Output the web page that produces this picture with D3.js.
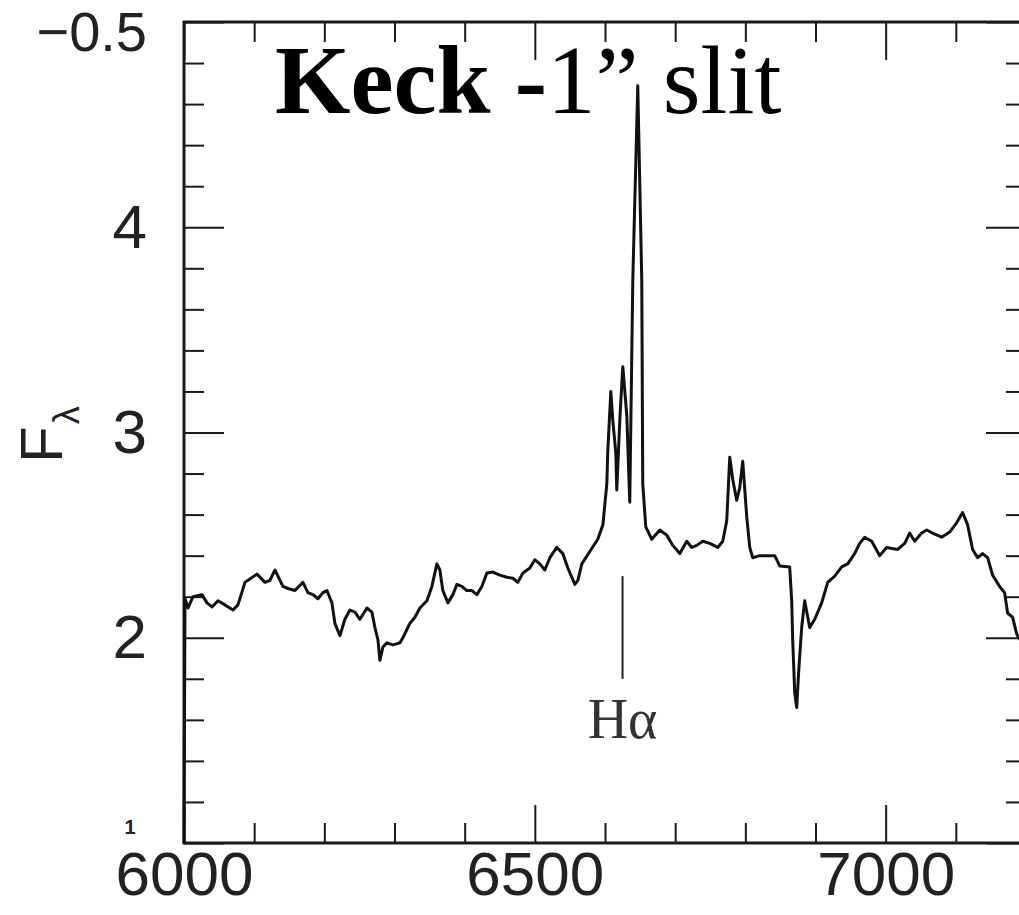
<!DOCTYPE html>
<html>
<head>
<meta charset="utf-8">
<script src="https://cdn.jsdelivr.net/npm/d3@7"></script>
<style>
  html, body { margin: 0; padding: 0; background: #fff; }
  svg { display: block; }
</style>
</head>
<body>
<script>
// ---- data ----
const wavelength = [6000,6001.4,6005.7,6012.8,6025.6,6032.8,6039.9,6048.4,6058.4,6069.8,6076.9,6086.9,6091.2,6104.0,6115.4,6122.5,6129.6,6133.9,6141.0,6148.1,6158.1,6169.5,6176.6,6183.8,6190.9,6198.0,6203.7,6210.8,6215.1,6222.2,6229.3,6236.5,6243.6,6250.7,6260.7,6267.8,6272.1,6276.4,6279.2,6283.5,6289.2,6297.7,6307.7,6312.0,6321.9,6329.1,6336.2,6346.2,6353.3,6360.4,6364.7,6368.9,6376.1,6383.2,6388.9,6396.0,6403.1,6410.3,6417.4,6424.5,6431.6,6440.2,6450.1,6460.1,6468.7,6475.8,6482.9,6492.9,6500.0,6507.1,6514.2,6521.4,6531.3,6539.9,6547.0,6557.0,6561.3,6567.0,6578.3,6589.7,6597.0,6602.6,6604.0,6608.3,6611.1,6615.4,6616.8,6621.1,6624.0,6625.4,6631.1,6635.3,6639.6,6646.7,6652.4,6653.8,6658.1,6666.7,6678.1,6688.0,6696.6,6706.6,6716.5,6723.6,6730.8,6739.3,6749.3,6760.7,6767.8,6773.5,6777.8,6782.1,6787.7,6792.0,6796.3,6802.0,6806.3,6810.5,6820.5,6830.5,6841.9,6849.0,6863.2,6866.1,6867.5,6870.4,6873.2,6876.1,6880.3,6884.6,6891.7,6898.9,6908.8,6917.4,6927.4,6937.3,6945.9,6955.8,6963.0,6970.1,6980.1,6991.5,7001.4,7017.1,7027.1,7034.2,7041.3,7051.3,7058.4,7066.9,7079.8,7091.2,7101.1,7109.7,7116.8,7123.9,7131.1,7138.2,7145.3,7152.4,7162.4,7169.5,7173.8,7180.9,7186.6,7189.5,7200];
const flux = [1.00,2.19,2.145,2.20,2.21,2.17,2.15,2.18,2.16,2.135,2.16,2.27,2.28,2.31,2.27,2.28,2.33,2.30,2.25,2.24,2.23,2.27,2.22,2.21,2.19,2.22,2.23,2.17,2.07,2.01,2.09,2.135,2.125,2.09,2.145,2.125,2.05,1.99,1.89,1.955,1.975,1.965,1.975,2.00,2.07,2.10,2.145,2.18,2.25,2.36,2.33,2.23,2.17,2.21,2.26,2.25,2.23,2.23,2.21,2.25,2.315,2.32,2.305,2.295,2.29,2.27,2.315,2.34,2.38,2.36,2.33,2.39,2.44,2.41,2.34,2.26,2.28,2.36,2.42,2.48,2.55,2.75,2.91,3.20,3.06,2.90,2.72,3.06,3.24,3.32,3.08,2.66,3.74,4.69,3.74,2.75,2.54,2.48,2.525,2.50,2.45,2.41,2.47,2.44,2.45,2.47,2.46,2.44,2.47,2.57,2.88,2.77,2.67,2.73,2.86,2.59,2.44,2.39,2.40,2.40,2.40,2.35,2.345,2.18,1.99,1.73,1.66,1.84,2.05,2.18,2.05,2.09,2.17,2.27,2.30,2.345,2.36,2.41,2.46,2.49,2.47,2.40,2.44,2.43,2.46,2.51,2.47,2.51,2.525,2.51,2.49,2.515,2.56,2.61,2.55,2.43,2.39,2.41,2.39,2.305,2.25,2.22,2.12,2.10,2.02,2.00,1.95];

const xMajorTicks = [6000, 6500, 7000];
const xMinorTicks = [6100,6200,6300,6400,6600,6700,6800,6900,7100];
const xTickLabels = ["6000", "6500", "7000"];
const yMajorTicks = [1, 2, 3, 4, 5];
const yMinorTicks = [1.2,1.4,1.6,1.8,2.2,2.4,2.6,2.8,3.2,3.4,3.6,3.8,4.2,4.4,4.6,4.8];
const yTickLabels = ["2", "3", "4"];
const yTickLabelValues = [2, 3, 4];
const topLeftLabel = "\u22120.5";
const bottomLeftLabel = "1";
const yAxisTitle = "F";
const yAxisTitleSub = "\u03bb";
const titleBold = "Keck -";
const titleRegular = "1\u201d slit";
const lineMarkLabel = "H\u03b1";
const lineMarkLambda = 6625;
const lineMarkFlux = [1.80, 2.30];

// ---- layout ----
const W = 1019, H = 915;
const x = d3.scaleLinear().domain([6000, 7200]).range([184, 1026]);
const y = d3.scaleLinear().domain([1, 5]).range([843, 22]);
const ink = "#1a1a1a";

const svg = d3.select("body").append("svg").attr("width", W).attr("height", H);
svg.append("rect").attr("width", W).attr("height", H).attr("fill", "#fff");

function styleAxis(g, sw) {
  g.select(".domain").remove();
  g.selectAll(".tick line").attr("stroke", ink).attr("stroke-width", sw);
  g.selectAll(".tick text").attr("fill", "#222")
    .attr("font-family", "'Liberation Sans', Arial, sans-serif").attr("font-size", 62);
}

// minor ticks
svg.append("g").attr("transform", `translate(0,${y(1)})`)
  .call(d3.axisBottom(x).tickValues(xMinorTicks).tickSize(-20).tickFormat(""))
  .call(g => styleAxis(g, 2));
svg.append("g").attr("transform", `translate(0,${y(5)})`)
  .call(d3.axisTop(x).tickValues(xMinorTicks).tickSize(-20).tickFormat(""))
  .call(g => styleAxis(g, 2));
svg.append("g").attr("transform", `translate(${x(6000)},0)`)
  .call(d3.axisLeft(y).tickValues(yMinorTicks).tickSize(-20).tickFormat(""))
  .call(g => styleAxis(g, 2));
svg.append("g").attr("transform", `translate(${x(7200)},0)`)
  .call(d3.axisRight(y).tickValues(yMinorTicks).tickSize(-20).tickFormat(""))
  .call(g => styleAxis(g, 2));

// major ticks with labels
svg.append("g").attr("transform", `translate(0,${y(1)})`)
  .call(d3.axisBottom(x).tickValues(xMajorTicks).tickSize(-38).tickPadding(8)
    .tickFormat((d, i) => xTickLabels[i]))
  .call(g => styleAxis(g, 2));
svg.append("g").attr("transform", `translate(0,${y(5)})`)
  .call(d3.axisTop(x).tickValues(xMajorTicks).tickSize(-38).tickFormat(""))
  .call(g => styleAxis(g, 2));
svg.append("g").attr("transform", `translate(${x(6000)},0)`)
  .call(d3.axisLeft(y).tickValues(yMajorTicks).tickSize(-40).tickPadding(37)
    .tickFormat(d => { const k = yTickLabelValues.indexOf(d); return k >= 0 ? yTickLabels[k] : ""; }))
  .call(g => styleAxis(g, 2));
svg.append("g").attr("transform", `translate(${x(7200)},0)`)
  .call(d3.axisRight(y).tickValues(yMajorTicks).tickSize(-40).tickFormat(""))
  .call(g => styleAxis(g, 2));

// frame
svg.append("rect")
  .attr("x", x(6000)).attr("y", y(5))
  .attr("width", x(7200) - x(6000)).attr("height", y(1) - y(5))
  .attr("fill", "none").attr("stroke", ink).attr("stroke-width", 3);

// odd corner labels
svg.append("text").attr("x", 147).attr("y", 51).attr("text-anchor", "end")
  .attr("font-family", "'Liberation Sans', Arial, sans-serif").attr("font-size", 56)
  .attr("fill", "#222").text(topLeftLabel);
svg.append("text").attr("x", 130).attr("y", 834).attr("text-anchor", "middle")
  .attr("font-family", "'Liberation Sans', Arial, sans-serif").attr("font-size", 20)
  .attr("font-weight", "bold").attr("fill", "#222").text(bottomLeftLabel);

// y axis title F_lambda
const yt = svg.append("text").attr("transform", "translate(62,463) rotate(-90)")
  .attr("font-family", "'Liberation Sans', Arial, sans-serif").attr("fill", "#222");
yt.append("tspan").attr("font-size", 60).text(yAxisTitle);
yt.append("tspan").attr("font-size", 36).attr("dy", 17).attr("dx", 2).text(yAxisTitleSub);

// spectrum
const pts = wavelength.map((w, i) => [w, flux[i]]);
svg.append("path").datum(pts)
  .attr("fill", "none").attr("stroke", "#111").attr("stroke-width", 3)
  .attr("stroke-linejoin", "round")
  .attr("d", d3.line().x(d => x(d[0])).y(d => y(d[1])));

// H-alpha marker
svg.append("line")
  .attr("x1", x(lineMarkLambda)).attr("x2", x(lineMarkLambda))
  .attr("y1", y(lineMarkFlux[1])).attr("y2", y(lineMarkFlux[0]))
  .attr("stroke", "#222").attr("stroke-width", 2);
svg.append("text").attr("x", x(lineMarkLambda)).attr("y", 738).attr("text-anchor", "middle")
  .attr("font-family", "'Liberation Serif', 'Times New Roman', serif").attr("font-size", 56)
  .attr("fill", "#333").text(lineMarkLabel);

// title
const tt = svg.append("text").attr("x", 275).attr("y", 113)
  .attr("font-family", "'Liberation Serif', 'Times New Roman', serif").attr("font-size", 97)
  .attr("fill", "#000");
tt.append("tspan").attr("font-weight", "bold").text(titleBold);
tt.append("tspan").attr("font-weight", "normal").text(titleRegular);
</script>
</body>
</html>
